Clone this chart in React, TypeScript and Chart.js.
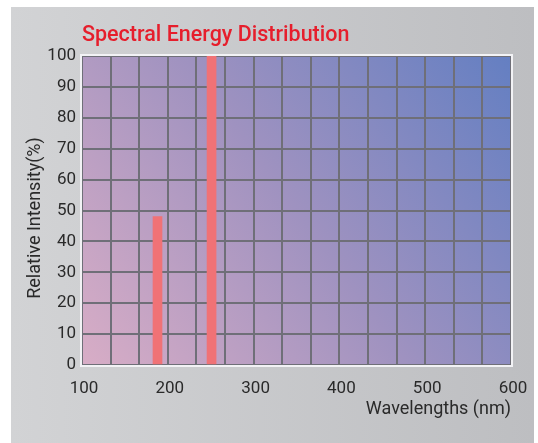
import React, { useEffect, useRef } from "react";
import { Chart, registerables } from "chart.js";

Chart.register(...registerables);

const chartTitle = "Spectral Energy Distribution";
const xAxisTitle = "Wavelengths (nm)";
const yAxisTitle = "Relative Intensity(%)";
const wavelengths = [188, 251];
const intensities = [48, 100];
const xMin = 100;
const xMax = 600;
const xStep = 100;
const yMin = 0;
const yMax = 100;
const yStep = 10;
const gridColumns = 15;

const FONT = "Roboto, 'DejaVu Sans', sans-serif";

const decorPlugin = {
  id: "decor",
  beforeDraw(chart: any) {
    const { ctx, width, height, chartArea } = chart;
    ctx.save();
    ctx.fillStyle = "#ffffff";
    ctx.fillRect(0, 0, width, height);
    const pg = ctx.createLinearGradient(11, 0, 534, 0);
    pg.addColorStop(0, "#d2d3d5");
    pg.addColorStop(1, "#bdbec1");
    ctx.fillStyle = pg;
    ctx.fillRect(11, 7, 523, height - 7);
    const { left, top, right, bottom } = chartArea;
    const g = ctx.createLinearGradient(left, bottom, right, top);
    g.addColorStop(0, "#d8adc6");
    g.addColorStop(0.5, "#9f92c0");
    g.addColorStop(1, "#647fc2");
    ctx.fillStyle = g;
    ctx.fillRect(left, top, right - left, bottom - top);
    ctx.restore();
  },
  beforeDatasetsDraw(chart: any) {
    const { ctx, chartArea } = chart;
    const { left, top, right, bottom } = chartArea;
    ctx.save();
    ctx.strokeStyle = "#f2f2f5";
    ctx.lineWidth = 2;
    ctx.strokeRect(left - 1, top - 1, right - left + 2, bottom - top + 2);
    ctx.restore();
  },
  afterDraw(chart: any) {
    const { ctx, chartArea } = chart;
    ctx.save();
    ctx.fillStyle = "#e61e2c";
    ctx.font = `500 21.5px ${FONT}`;
    ctx.textAlign = "left";
    ctx.textBaseline = "alphabetic";
    ctx.fillText(chartTitle, 82, 41);

    ctx.fillStyle = "#2a2a2a";
    ctx.font = `18px ${FONT}`;
    ctx.textAlign = "right";
    ctx.fillText(xAxisTitle, chartArea.right, 414);

    ctx.translate(35, 218);
    ctx.rotate(-Math.PI / 2);
    ctx.textAlign = "center";
    ctx.textBaseline = "middle";
    ctx.fillText(yAxisTitle, 0, 0);
    ctx.restore();
  },
};

export default function App() {
  const canvasRef = useRef<HTMLCanvasElement | null>(null);

  useEffect(() => {
    const canvas = canvasRef.current;
    if (!canvas) return;
    const chart = new Chart(canvas, {
      type: "bar",
      data: {
        datasets: [
          {
            data: wavelengths.map((w, i) => ({ x: w, y: intensities[i] })),
            backgroundColor: "#f07276",
            barThickness: 9,
            xAxisID: "x",
            yAxisID: "y",
          },
        ],
      },
      options: {
        responsive: false,
        animation: false,
        devicePixelRatio: 1,
        layout: { padding: { top: 56, right: 27, left: 0, bottom: 0 } },
        plugins: {
          legend: { display: false },
          title: { display: false },
          tooltip: { enabled: false },
        },
        scales: {
          x: {
            type: "linear",
            position: "bottom",
            min: xMin,
            max: xMax,
            offset: false,
            afterFit: (s: any) => {
              s.height = 78;
            },
            ticks: {
              stepSize: xStep,
              padding: 6,
              labelOffset: 2,
              color: "#2a2a2a",
              font: { family: FONT, size: 17 },
              maxRotation: 0,
            },
            grid: { display: false },
            border: { display: false },
          },
          xg: {
            type: "linear",
            position: "bottom",
            min: 0,
            max: gridColumns,
            offset: false,
            afterFit: (s: any) => {
              s.height = 0;
            },
            ticks: { stepSize: 1, display: false },
            grid: {
              color: "#6f6f78",
              lineWidth: 2,
              drawTicks: false,
              offset: false,
            },
            border: { display: false },
          },
          y: {
            type: "linear",
            min: yMin,
            max: yMax,
            afterFit: (s: any) => {
              s.width = 82;
            },
            ticks: {
              stepSize: yStep,
              padding: 6,
              color: "#2a2a2a",
              font: { family: FONT, size: 17 },
            },
            grid: {
              color: "#6f6f78",
              lineWidth: 2,
              drawTicks: false,
            },
            border: { display: false },
          },
        },
      },
      plugins: [decorPlugin],
    } as any);
    return () => chart.destroy();
  }, []);

  return (
    <div style={{ position: "absolute", left: 0, top: 0, width: 538, height: 443 }}>
      <canvas ref={canvasRef} width={538} height={443} style={{ display: "block", width: 538, height: 443 }} />
    </div>
  );
}
